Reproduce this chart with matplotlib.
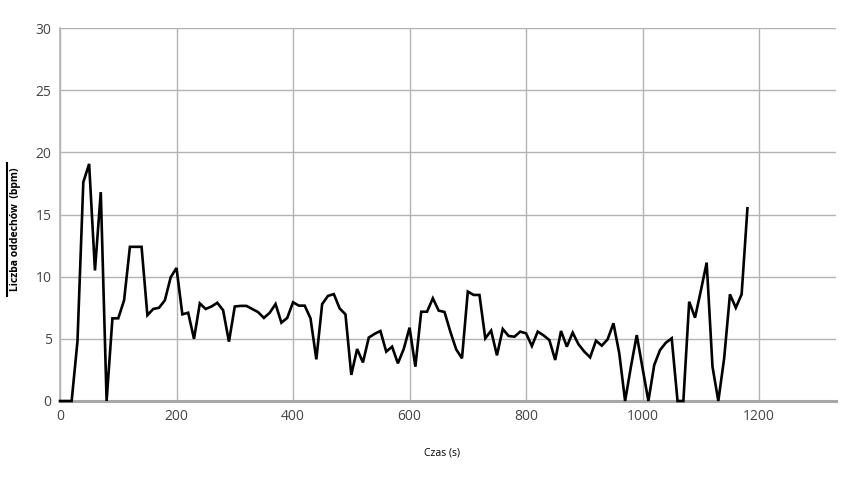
import numpy as np
import matplotlib
matplotlib.use("Agg")
import matplotlib.pyplot as plt
from matplotlib.lines import Line2D

# czas w sekundach (co 10 s) i liczba oddechów
czas = np.arange(0, 1190, 10)
oddechy = [
    0, 0, 0, 4.8, 17.6, 19.07, 10.5, 16.8, 0, 6.65,
    6.65, 8.1, 12.4, 12.4, 12.4, 6.9, 7.4, 7.5, 8.1, 9.95,
    10.7, 6.97, 7.1, 5.0, 7.85, 7.4, 7.6, 7.9, 7.3, 4.77,
    7.6, 7.65, 7.65, 7.4, 7.15, 6.68, 7.1, 7.8, 6.3, 6.68,
    7.94, 7.67, 7.67, 6.65, 3.35, 7.8, 8.45, 8.6, 7.45, 6.97,
    2.1, 4.18, 3.1, 5.1, 5.4, 5.63, 3.97, 4.37, 3.03, 4.18,
    5.9, 2.76, 7.18, 7.18, 8.26, 7.27, 7.16, 5.58, 4.16, 3.43,
    8.8, 8.53, 8.53, 5.04, 5.66, 3.67, 5.79, 5.23, 5.17, 5.58,
    5.44, 4.42, 5.58, 5.28, 4.9, 3.3, 5.63, 4.37, 5.5, 4.56,
    3.97, 3.51, 4.85, 4.45, 4.96, 6.25, 3.83, 0, 2.76, 5.3,
    2.63, 0, 2.9, 4.1, 4.69, 5.04, 0, 0, 7.99, 6.7,
    8.87, 11.13, 2.76, 0, 3.43, 8.58, 7.5, 8.58, 15.5,
]
x_ticks = [0, 200, 400, 600, 800, 1000, 1200]
y_ticks = [0, 5, 10, 15, 20, 25, 30]

plt.rcParams['font.family'] = ['Open Sans', 'DejaVu Sans']

fig = plt.figure(figsize=(8.53, 4.8), dpi=100)
ax = fig.add_axes([60/853, 1-401/480, 776/853, 373/480])

ax.plot(czas, oddechy, color='black', lw=1.9, solid_joinstyle='miter',
        zorder=5, clip_on=False)

ax.set_xlim(0, 1332)
ax.set_ylim(0, 30)
ax.set_xticks(x_ticks)
ax.set_yticks(y_ticks)
ax.grid(True, color='#b3b3b3', lw=1)
ax.set_axisbelow(True)
for s in ['top', 'right']:
    ax.spines[s].set_visible(False)
ax.spines['left'].set_color('#b3b3b3')
ax.spines['left'].set_linewidth(1.2)
ax.spines['bottom'].set_color('#a8a8a8')
ax.spines['bottom'].set_linewidth(2.2)
ax.spines['bottom'].set_zorder(2)
ax.tick_params(length=0, labelsize=10, labelcolor='#444444', pad=6)

fig.text(442/853, 1-453/480, 'Czas (s)', ha='center', va='center', fontsize=7.5, color='black')
fig.text(16/853, 1-229/480, 'Liczba oddechów  (bpm)', ha='center', va='center',
         rotation=90, fontsize=7.5, fontweight='bold', color='black')
fig.add_artist(Line2D([7.5/853, 7.5/853], [1-163/480, 1-296/480], color='black', lw=1.5))

fig.savefig('out.png', dpi=100)
